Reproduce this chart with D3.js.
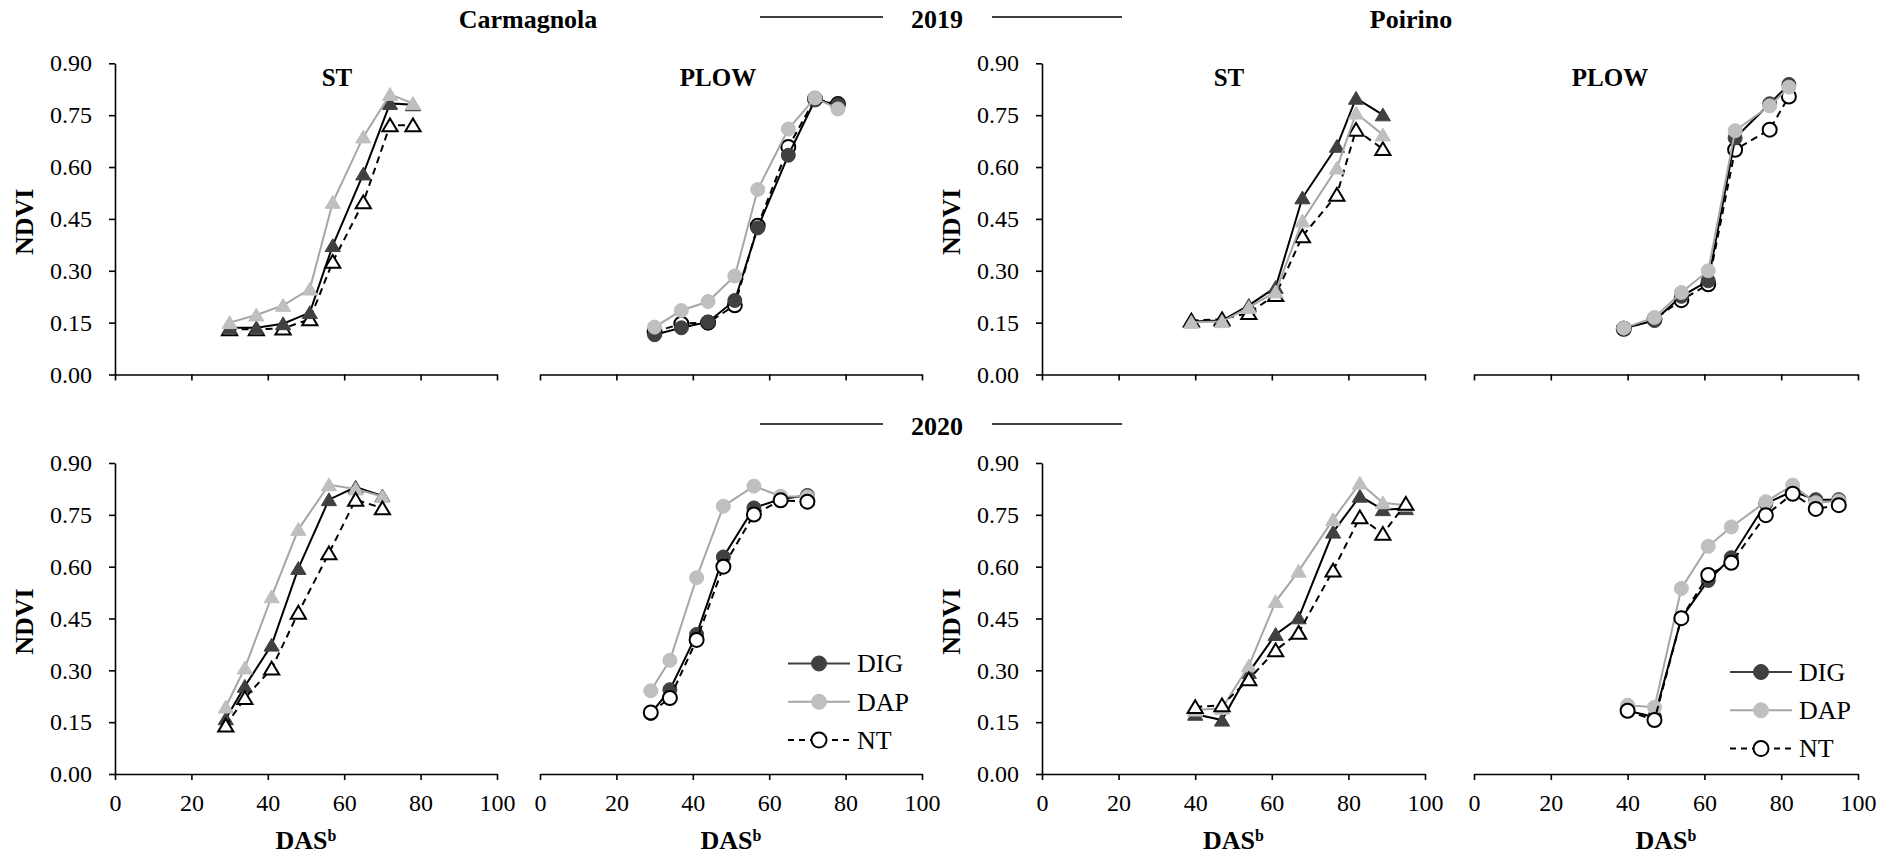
<!DOCTYPE html>
<html><head><meta charset="utf-8">
<script src="https://cdn.jsdelivr.net/npm/d3@7"></script>
<style>
body{margin:0;background:#fff}
svg{display:block}
text{font-family:"Liberation Serif","Times New Roman",serif;fill:#000}
</style>
</head><body>
<svg id="c" width="1899" height="857"></svg>
<script>
// ---------- DATA ----------
const seriesNames = ["DIG", "DAP", "NT"];
const yTicks = [0, 0.15, 0.30, 0.45, 0.60, 0.75, 0.90];
const xTicks = [0, 20, 40, 60, 80, 100];
const locations = ["Carmagnola", "Poirino"];
const years = ["2019", "2020"];
const tillage = ["ST", "PLOW"];

// DAS (days after sowing)
const dasCarm2019 = [30, 37, 44, 51, 57, 65, 72, 78];
const dasPoir2019ST = [39, 47, 54, 61, 68, 77, 82, 89];
const dasPoir2019PLOW = [39, 47, 54, 61, 68, 77, 82];
const dasCarm2020 = [29, 34, 41, 48, 56, 63, 70];
const dasPoir2020 = [40, 47, 54, 61, 67, 76, 83, 89, 95];

// Carmagnola 2019 ST
const carm19stDIG = [0.135, 0.135, 0.147, 0.179, 0.373, 0.580, 0.784, 0.780];
const carm19stDAP = [0.150, 0.172, 0.200, 0.247, 0.498, 0.687, 0.810, 0.784];
const carm19stNT  = [0.131, 0.131, 0.133, 0.160, 0.326, 0.498, 0.721, 0.721];
// Carmagnola 2019 PLOW
const carm19plDIG = [0.115, 0.135, 0.152, 0.214, 0.424, 0.634, 0.794, 0.780];
const carm19plDAP = [0.137, 0.185, 0.211, 0.285, 0.535, 0.710, 0.800, 0.768];
const carm19plNT  = [0.123, 0.147, 0.150, 0.200, 0.430, 0.658, 0.797, 0.782];
// Poirino 2019 ST
const poir19stDIG = [0.153, 0.156, 0.200, 0.252, 0.511, 0.660, 0.799, 0.751];
const poir19stDAP = [0.151, 0.153, 0.194, 0.239, 0.444, 0.597, 0.756, 0.693];
const poir19stNT  = [0.156, 0.160, 0.178, 0.230, 0.400, 0.520, 0.708, 0.652];
// Poirino 2019 PLOW
const poir19plDIG = [0.134, 0.156, 0.226, 0.271, 0.684, 0.783, 0.839];
const poir19plDAP = [0.134, 0.165, 0.237, 0.300, 0.705, 0.777, 0.831];
const poir19plNT  = [0.132, 0.160, 0.215, 0.261, 0.650, 0.708, 0.804];
// Carmagnola 2020 ST
const carm20stDIG = [0.160, 0.254, 0.373, 0.595, 0.794, 0.830, 0.805];
const carm20stDAP = [0.194, 0.307, 0.513, 0.708, 0.837, 0.825, 0.803];
const carm20stNT  = [0.140, 0.220, 0.305, 0.467, 0.639, 0.794, 0.769];
// Carmagnola 2020 PLOW
const carm20plDIG = [0.175, 0.244, 0.404, 0.628, 0.770, 0.796, 0.806];
const carm20plDAP = [0.241, 0.329, 0.568, 0.775, 0.833, 0.804, 0.802];
const carm20plNT  = [0.178, 0.220, 0.388, 0.600, 0.751, 0.792, 0.788];
// Poirino 2020 ST
const poir20stDIG = [0.173, 0.156, 0.294, 0.404, 0.452, 0.700, 0.804, 0.765, 0.768];
const poir20stDAP = [0.185, 0.190, 0.313, 0.499, 0.587, 0.736, 0.842, 0.785, 0.778];
const poir20stNT  = [0.194, 0.199, 0.274, 0.358, 0.409, 0.589, 0.743, 0.695, 0.782];
// Poirino 2020 PLOW
const poir20plDIG = [0.183, 0.165, 0.451, 0.560, 0.626, 0.783, 0.818, 0.794, 0.794];
const poir20plDAP = [0.199, 0.193, 0.537, 0.659, 0.715, 0.788, 0.836, 0.785, 0.790];
const poir20plNT  = [0.183, 0.156, 0.451, 0.576, 0.611, 0.749, 0.811, 0.767, 0.778];

// ---------- LAYOUT / STYLE ----------
const colX = [[115, 497], [540, 922], [1042, 1425], [1474, 1858]];
const rowY = [[374.5, 63.3], [774, 463]];
const style = {
  DIG: {line: "#000", fill: "#404040", stroke: "#404040", dash: null},
  DAP: {line: "#a6a6a6", fill: "#bfbfbf", stroke: "#bfbfbf", dash: null},
  NT:  {line: "#000", fill: "#fff", stroke: "#000", dash: "7,5"}
};
const drawOrder = [["NT", "DIG", "DAP"], ["DIG", "DAP", "NT"]];

const panels = [
  {row: 0, col: 0, title: "ST",   x: dasCarm2019,    s: {DIG: carm19stDIG, DAP: carm19stDAP, NT: carm19stNT}, mk: "tri", yAxis: true, tx: 337},
  {row: 0, col: 1, title: "PLOW", x: dasCarm2019,    s: {DIG: carm19plDIG, DAP: carm19plDAP, NT: carm19plNT}, mk: "circ", yAxis: false, tx: 718},
  {row: 0, col: 2, title: "ST",   x: dasPoir2019ST,  s: {DIG: poir19stDIG, DAP: poir19stDAP, NT: poir19stNT}, mk: "tri", yAxis: true, tx: 1229},
  {row: 0, col: 3, title: "PLOW", x: dasPoir2019PLOW,s: {DIG: poir19plDIG, DAP: poir19plDAP, NT: poir19plNT}, mk: "circ", yAxis: false, tx: 1610},
  {row: 1, col: 0, title: null,   x: dasCarm2020,    s: {DIG: carm20stDIG, DAP: carm20stDAP, NT: carm20stNT}, mk: "tri", yAxis: true},
  {row: 1, col: 1, title: null,   x: dasCarm2020,    s: {DIG: carm20plDIG, DAP: carm20plDAP, NT: carm20plNT}, mk: "circ", yAxis: false, legend: [819, 663.5, 38.3]},
  {row: 1, col: 2, title: null,   x: dasPoir2020,    s: {DIG: poir20stDIG, DAP: poir20stDAP, NT: poir20stNT}, mk: "tri", yAxis: true},
  {row: 1, col: 3, title: null,   x: dasPoir2020,    s: {DIG: poir20plDIG, DAP: poir20plDAP, NT: poir20plNT}, mk: "circ", yAxis: false, legend: [1761, 672, 38.3]}
];

const svg = d3.select("#c");
const triPath = "M0,-6.8L7.6,6L-7.6,6Z";

function marker(g, type, st) {
  if (type === "tri") {
    return g.append("path").attr("d", triPath);
  }
  return g.append("circle").attr("r", 7);
}

panels.forEach(p => {
  const x = d3.scaleLinear().domain([0, 100]).range(colX[p.col]);
  const y = d3.scaleLinear().domain([0, 0.9]).range(rowY[p.row]);
  const g = svg.append("g");

  // x axis
  const xa = d3.axisBottom(x).tickValues(xTicks).tickSize(6).tickSizeOuter(0).tickPadding(14);
  if (p.row === 0) xa.tickFormat("");
  const gx = g.append("g").attr("transform", `translate(0,${y(0)})`).call(xa);
  gx.select(".domain").attr("stroke", "#000").attr("stroke-width", 1.6);
  gx.selectAll(".tick line").attr("stroke", "#000").attr("stroke-width", 1.6);
  gx.selectAll(".tick text").style("font-size", "24px").style("font-family", "Liberation Serif").attr("fill", "#000");

  if (p.yAxis) {
    const ya = d3.axisLeft(y).tickValues(yTicks).tickSize(6).tickSizeOuter(0).tickPadding(17).tickFormat(d3.format(".2f"));
    const gy = g.append("g").attr("transform", `translate(${x(0)},0)`).call(ya);
    gy.select(".domain").attr("stroke", "#000").attr("stroke-width", 1.6);
    gy.selectAll(".tick line").attr("stroke", "#000").attr("stroke-width", 1.6);
    gy.selectAll(".tick text").style("font-size", "24px").style("font-family", "Liberation Serif").attr("fill", "#000");
    const cy = (y(0) + y(0.9)) / 2 + 3;
    g.append("text").attr("transform", `translate(${x(0) - 82},${cy}) rotate(-90)`)
      .attr("text-anchor", "middle").style("font-size", "26px").style("font-weight", "bold").text("NDVI");
  }

  if (p.row === 1) {
    const t = g.append("text").attr("x", (x(0) + x(100)) / 2).attr("y", 849)
      .attr("text-anchor", "middle").style("font-size", "26px").style("font-weight", "bold");
    t.append("tspan").text("DAS");
    t.append("tspan").attr("dy", -8).style("font-size", "16px").text("b");
  }

  if (p.title) {
    g.append("text").attr("x", p.tx).attr("y", 86).attr("text-anchor", "middle")
      .style("font-size", "25px").style("font-weight", "bold").text(p.title);
  }

  drawOrder[p.row].forEach(name => {
    const st = style[name];
    const pts = p.x.map((d, i) => [d, p.s[name][i]]);
    const line = d3.line().x(d => x(d[0])).y(d => y(d[1]));
    const path = g.append("path").datum(pts).attr("d", line).attr("fill", "none")
      .attr("stroke", st.line).attr("stroke-width", 2);
    if (st.dash) path.attr("stroke-dasharray", st.dash);
    pts.forEach(d => {
      const m = marker(g, p.mk, st);
      if (p.mk === "tri") m.attr("transform", `translate(${x(d[0])},${y(d[1])})`);
      else m.attr("cx", x(d[0])).attr("cy", y(d[1]));
      m.attr("fill", st.fill).attr("stroke", st.stroke).attr("stroke-width", name === "NT" ? 2 : 1);
    });
  });

  if (p.legend) {
    const [mx, my, dyStep] = p.legend;
    seriesNames.forEach((name, i) => {
      const st = style[name];
      const yy = my + i * dyStep;
      const lg = g.append("line").attr("x1", mx - 31).attr("x2", mx + 31).attr("y1", yy).attr("y2", yy)
        .attr("stroke", name === "DIG" ? "#404040" : st.line).attr("stroke-width", 2);
      if (st.dash) lg.attr("stroke-dasharray", "6,5");
      g.append("circle").attr("cx", mx).attr("cy", yy).attr("r", 7.5)
        .attr("fill", st.fill).attr("stroke", st.stroke).attr("stroke-width", name === "NT" ? 2 : 1);
      g.append("text").attr("x", mx + 38).attr("y", yy).attr("dy", "0.34em")
        .style("font-size", "26px").text(name);
    });
  }
});

// Headers
function header(yLine, yText, year) {
  svg.append("line").attr("x1", 760).attr("x2", 883).attr("y1", yLine).attr("y2", yLine).attr("stroke", "#000").attr("stroke-width", 1.3);
  svg.append("line").attr("x1", 992).attr("x2", 1122).attr("y1", yLine).attr("y2", yLine).attr("stroke", "#000").attr("stroke-width", 1.3);
  svg.append("text").attr("x", 937).attr("y", yText).attr("text-anchor", "middle")
    .style("font-size", "26px").style("font-weight", "bold").text(year);
}
header(17, 28, years[0]);
header(424, 435, years[1]);
svg.append("text").attr("x", 528).attr("y", 28).attr("text-anchor", "middle")
  .style("font-size", "26px").style("font-weight", "bold").text(locations[0]);
svg.append("text").attr("x", 1411).attr("y", 28).attr("text-anchor", "middle")
  .style("font-size", "26px").style("font-weight", "bold").text(locations[1]);
</script>
</body></html>
